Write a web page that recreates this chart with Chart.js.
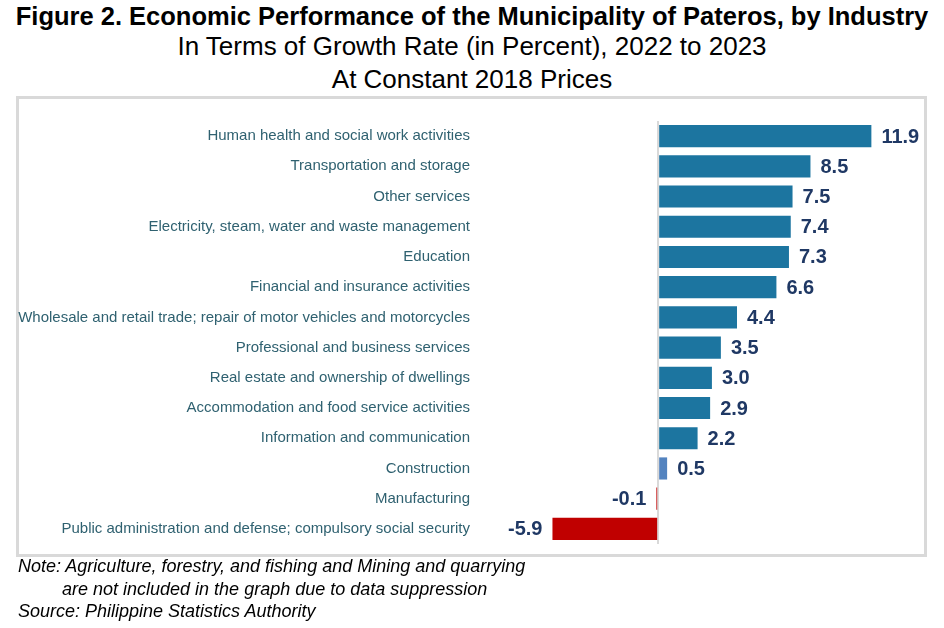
<!DOCTYPE html>
<html>
<head>
<meta charset="utf-8">
<script src="https://cdn.jsdelivr.net/npm/chart.js@4.4.1/dist/chart.umd.min.js"></script>
<style>
  body { margin: 0; width: 944px; height: 628px; background: #fff; font-family: "Liberation Sans", Arial, sans-serif; position: relative; overflow: hidden; }
  .t { position: absolute; left: 0; width: 944px; text-align: center; color: #000; white-space: nowrap; line-height: 1.15; }
  #t1 { top: 2px; font-size: 25.5px; font-weight: bold; }
  #t2 { top: 32px; font-size: 26px; }
  #t3 { top: 65px; font-size: 26px; }
  #box { position: absolute; left: 16px; top: 96px; width: 905px; height: 455px; border: 3px solid #d9d9d9; }
  #wrap { position: absolute; left: 0; top: 97px; width: 944px; height: 465px; }
  .note { position: absolute; left: 18px; font-size: 18px; font-style: italic; color: #000; white-space: nowrap; line-height: 1.15; }
</style>
</head>
<body>
<div class="t" id="t1">Figure 2. Economic Performance of the Municipality of Pateros, by Industry</div>
<div class="t" id="t2">In Terms of Growth Rate (in Percent), 2022 to 2023</div>
<div class="t" id="t3">At Constant 2018 Prices</div>
<div id="box"></div>
<div id="wrap"><canvas id="chartIndustria"></canvas></div>
<div class="note" style="top:556px">Note: Agriculture, forestry, and fishing and Mining and quarrying</div>
<div class="note" style="top:579px; left:62px">are not included in the graph due to data suppression</div>
<div class="note" style="top:601px">Source: Philippine Statistics Authority</div>

<script>
// Industrias y tasa de crecimiento 2022-2023 (%)
const industrias = [
    'Human health and social work activities',
    'Transportation and storage',
    'Other services',
    'Electricity, steam, water and waste management',
    'Education',
    'Financial and insurance activities',
    'Wholesale and retail trade; repair of motor vehicles and motorcycles',
    'Professional and business services',
    'Real estate and ownership of dwellings',
    'Accommodation and food service activities',
    'Information and communication',
    'Construction',
    'Manufacturing',
    'Public administration and defense; compulsory social security'
];
const crecimiento = [11.9, 8.5, 7.5, 7.4, 7.3, 6.6, 4.4, 3.5, 3.0, 2.9, 2.2, 0.5, -0.1, -5.9];
const ejeMin = -10;
const ejeMax = 14;

const AZUL = '#1c75a0';
const AZUL_CLARO = '#5383bf';
const ROJO = '#c00000';
const destacado = 'Construction';
const FUENTE = '"Liberation Sans", Arial, sans-serif';

const colores = crecimiento.map((v, i) => {
    if (v < 0) return ROJO;
    if (industrias[i] === destacado) return AZUL_CLARO;
    return AZUL;
});

// etiquetas de valor al final de cada barra
const etiquetasValor = {
    id: 'etiquetasValor',
    afterDatasetsDraw(chart) {
        const ctx = chart.ctx;
        const meta = chart.getDatasetMeta(0);
        ctx.save();
        ctx.font = 'bold 20px ' + FUENTE;
        ctx.fillStyle = '#1f3864';
        ctx.textBaseline = 'middle';
        meta.data.forEach((bar, i) => {
            const v = crecimiento[i];
            const txt = v.toFixed(1);
            if (v < 0) {
                ctx.textAlign = 'right';
                ctx.fillText(txt, bar.x - 10, bar.y + 1);
            } else {
                ctx.textAlign = 'left';
                ctx.fillText(txt, bar.x + 10, bar.y + 1);
            }
        });
        ctx.restore();
    }
};

const ctx = document.getElementById('chartIndustria').getContext('2d');
new Chart(ctx, {
    type: 'bar',
    data: {
        labels: industrias,
        datasets: [{
            data: crecimiento,
            backgroundColor: colores,
            borderWidth: 0,
            categoryPercentage: 1,
            barPercentage: 0.733
        }]
    },
    options: {
        indexAxis: 'y',
        responsive: true,
        maintainAspectRatio: false,
        animation: false,
        layout: { padding: { top: 24, bottom: 12, left: 0, right: 35 } },
        plugins: { legend: { display: false }, tooltip: { enabled: false } },
        scales: {
            x: {
                min: ejeMin,
                max: ejeMax,
                ticks: { display: false, stepSize: 1 },
                border: { display: false },
                grid: {
                    drawTicks: false,
                    lineWidth: 2,
                    color: c => (c.tick && c.tick.value === 0) ? '#d9d9d9' : 'rgba(0,0,0,0)'
                },
                afterFit: s => { s.height = 0; }
            },
            y: {
                ticks: {
                    padding: 9,
                    color: '#2f6170',
                    font: { family: FUENTE, size: 15 }
                },
                grid: { display: false, drawTicks: false },
                border: { display: false },
                afterFit: s => { s.width = 479; }
            }
        }
    },
    plugins: [etiquetasValor]
});
</script>
</body>
</html>
